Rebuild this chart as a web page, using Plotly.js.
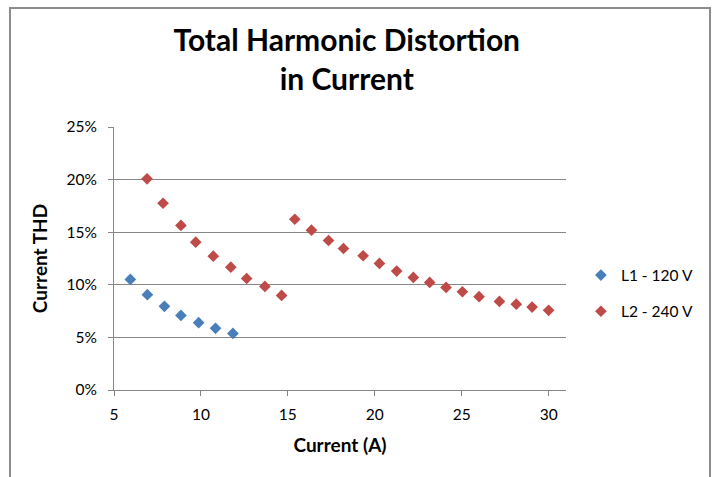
<!DOCTYPE html>
<html>
<head>
<meta charset="utf-8">
<script src="https://cdn.plot.ly/plotly-3.0.1.min.js"></script>
<style>
  html, body { margin: 0; padding: 0; background: #fff; }
  #chart { width: 715px; height: 477px; }
  #frame { position: absolute; left: 9px; top: 7px; width: 702px; height: 480px;
           border: 2px solid #8c8c8c; box-sizing: border-box; pointer-events: none; }
</style>
</head>
<body>
<div id="chart"></div>
<div id="frame"></div>
<script>
// Series L1 - 120 V
const l1Current = [5.94, 6.92, 7.90, 8.85, 9.87, 10.84, 11.84];
const l1THD     = [10.51, 9.06, 7.95, 7.09, 6.40, 5.86, 5.38];
// Series L2 - 240 V
const l2Current = [6.90, 7.82, 8.85, 9.70, 10.71, 11.72, 12.63, 13.68, 14.64,
                   15.40, 16.36, 17.34, 18.20, 19.33, 20.27, 21.26, 22.22, 23.16,
                   24.10, 25.04, 26.00, 27.17, 28.14, 29.05, 30.00];
const l2THD     = [20.07, 17.75, 15.64, 14.05, 12.72, 11.68, 10.60, 9.85, 8.99,
                   16.23, 15.19, 14.21, 13.45, 12.76, 12.03, 11.30, 10.70, 10.23,
                   9.75, 9.34, 8.87, 8.42, 8.16, 7.88, 7.57];
const seriesNames = ['L1 - 120 V', 'L2 - 240 V'];
const xTicks = [5, 10, 15, 20, 25, 30];
const yTicks = [0, 5, 10, 15, 20, 25];

const FONT = 'Lato, Calibri, Carlito, sans-serif';

const traces = [
  { x: l1Current, y: l1THD, name: seriesNames[0], type: 'scatter', mode: 'markers',
    legendgroup: 'a',
    marker: { symbol: 'diamond', size: 9, color: '#4A7EBB' } },
  { x: l2Current, y: l2THD, name: seriesNames[1], type: 'scatter', mode: 'markers',
    legendgroup: 'b',
    marker: { symbol: 'diamond', size: 9, color: '#BE4B48' } }
];

const layout = {
  width: 715, height: 477,
  margin: { l: 114, r: 149, t: 127, b: 87, pad: 0 },
  paper_bgcolor: '#ffffff', plot_bgcolor: '#ffffff',
  font: { family: FONT, color: '#000000', size: 15.5 },
  title: {
    text: 'Total Harmonic Distortion<br>in Current',
    font: { family: FONT, size: 30, color: '#000000', weight: 'bold' },
    xref: 'paper', x: 0.515, xanchor: 'center',
    yref: 'container', y: 0.893, yanchor: 'top'
  },
  xaxis: {
    range: [5, 31], tickvals: xTicks, ticktext: xTicks.map(String),
    showgrid: false, zeroline: false,
    showline: true, linecolor: '#868686', linewidth: 1,
    ticks: 'outside', ticklen: 5, tickcolor: '#868686', tickwidth: 1,
    ticklabelstandoff: 5,
    tickfont: { family: FONT, size: 15.5, color: '#000000' },
    title: { text: 'Current (A)', standoff: 17,
             font: { family: FONT, size: 19, color: '#000000', weight: 'bold' } }
  },
  yaxis: {
    range: [0, 25], tickvals: yTicks, ticktext: yTicks.map(v => v + '%'),
    showgrid: true, gridcolor: '#868686', gridwidth: 1, zeroline: false,
    showline: true, linecolor: '#868686', linewidth: 1,
    ticks: 'outside', ticklen: 5, tickcolor: '#868686', tickwidth: 1,
    ticklabelstandoff: 8,
    tickfont: { family: FONT, size: 15.5, color: '#000000' },
    title: { text: 'Current THD', standoff: 13,
             font: { family: FONT, size: 19, color: '#000000', weight: 'bold' } }
  },
  showlegend: true,
  legend: {
    x: 1.033, xanchor: 'left', y: 0.5, yanchor: 'top',
    traceorder: 'grouped', tracegroupgap: 13,
    font: { family: FONT, size: 15.5, color: '#000000' },
    bgcolor: 'rgba(0,0,0,0)', borderwidth: 0
  }
};

Plotly.newPlot('chart', traces, layout, { displayModeBar: false, staticPlot: true });
</script>
</body>
</html>
